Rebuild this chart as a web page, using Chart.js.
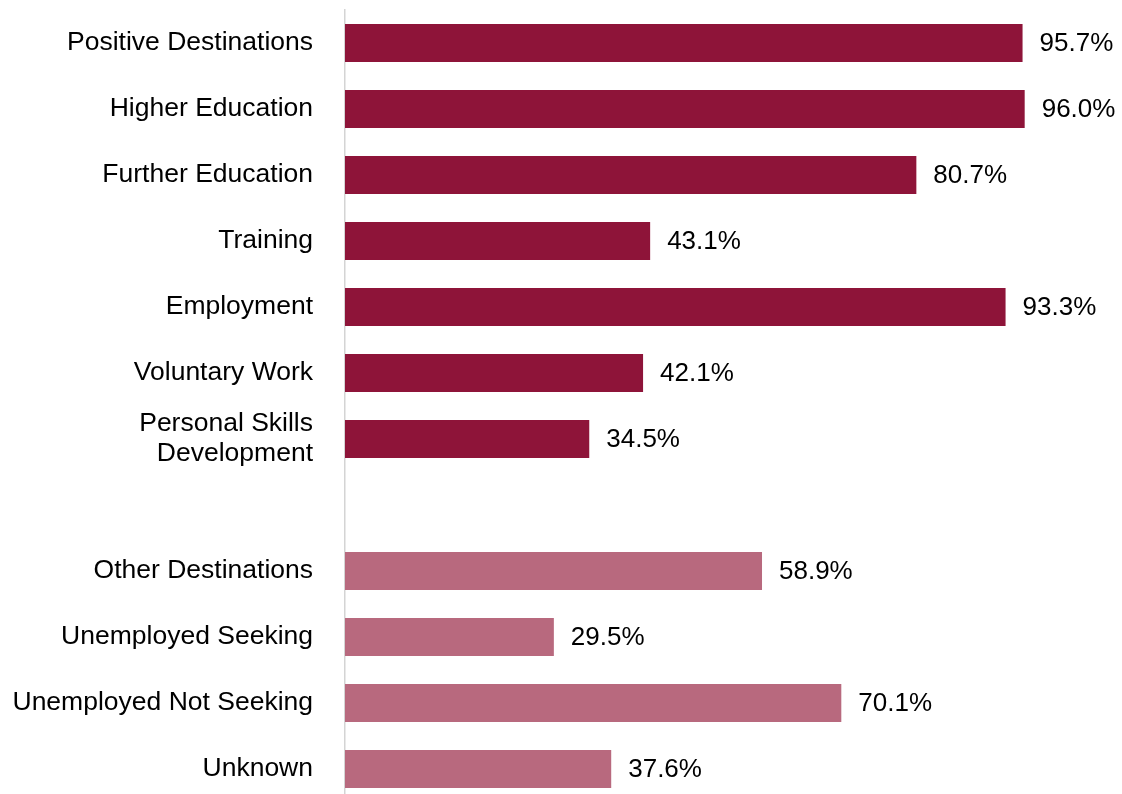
<!DOCTYPE html>
<html>
<head>
<meta charset="utf-8">
<script src="https://cdn.jsdelivr.net/npm/chart.js@4"></script>
<style>
  html, body { margin: 0; padding: 0; background: #fff; overflow: hidden; }
  #wrap { width: 1122px; height: 802px; position: relative; }
</style>
</head>
<body>
<div id="wrap"><canvas id="c"></canvas></div>
<script>
const positiveLabels = ["Positive Destinations", "Higher Education", "Further Education", "Training", "Employment", "Voluntary Work", ["Personal Skills", "Development"]];
const positiveValues = [95.7, 96.0, 80.7, 43.1, 93.3, 42.1, 34.5];
const otherLabels = ["Other Destinations", "Unemployed Seeking", "Unemployed Not Seeking", "Unknown"];
const otherValues = [58.9, 29.5, 70.1, 37.6];

const darkColor = "#8E1439";
const lightColor = "#B8697E";

const labels = [...positiveLabels, "", ...otherLabels];
const values = [...positiveValues, null, ...otherValues];
const colors = [...positiveValues.map(() => darkColor), "rgba(0,0,0,0)", ...otherValues.map(() => lightColor)];

const valueLabelPlugin = {
  id: "valueLabels",
  afterDatasetsDraw(chart) {
    const ctx = chart.ctx;
    const meta = chart.getDatasetMeta(0);
    ctx.save();
    ctx.font = "26px 'Liberation Sans', Arial, sans-serif";
    ctx.fillStyle = "#000";
    ctx.textAlign = "left";
    ctx.textBaseline = "middle";
    meta.data.forEach((bar, i) => {
      const v = values[i];
      if (v === null || v === undefined) return;
      ctx.fillText(v.toFixed(1) + "%", bar.x + 17, bar.y + 1);
    });
    ctx.restore();
  }
};

new Chart(document.getElementById("c"), {
  type: "bar",
  data: {
    labels: labels,
    datasets: [{
      data: values,
      backgroundColor: colors,
      borderWidth: 0,
      categoryPercentage: 1.0,
      barPercentage: 0.576
    }]
  },
  options: {
    indexAxis: "y",
    responsive: true,
    maintainAspectRatio: false,
    animation: false,
    layout: { padding: { top: 10, right: 69, bottom: 0, left: 0 } },
    plugins: { legend: { display: false }, tooltip: { enabled: false } },
    scales: {
      x: { display: false, min: 0, max: 100 },
      y: {
        afterFit(scale) { scale.width = 345; scale.paddingTop = 0; scale.paddingBottom = 0; },
        grid: { display: false, drawTicks: false },
        border: { display: true, color: "#d4d4d4", width: 1.5 },
        ticks: {
          padding: 32,
          color: "#000",
          font: { family: "'Liberation Sans', Arial, sans-serif", size: 26.5, lineHeight: 1.13 }
        }
      }
    }
  },
  plugins: [valueLabelPlugin]
});
</script>
</body>
</html>
